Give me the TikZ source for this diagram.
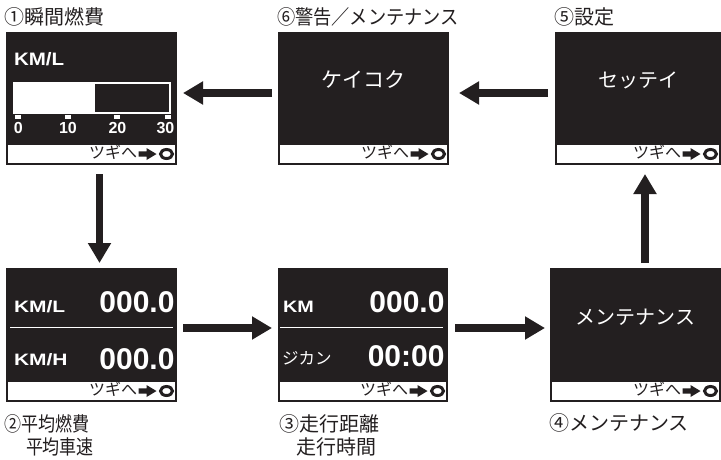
\documentclass[tikz,border=0pt]{standalone}
\usepackage{fontspec}
\usepackage{graphicx}
\setmainfont{Liberation Sans}
\newfontfamily\jp{Noto Sans CJK JP}
\usetikzlibrary{arrows.meta,calc}
\definecolor{ink}{HTML}{231F20}
\tikzset{
  screen/.style={fill=ink, anchor=north west, inner sep=0pt, outer sep=0pt},
  num/.style={text=white, font=\bfseries\fontsize{30}{30}\selectfont, anchor=base east},
  unitA/.style={text=white, font=\bfseries\fontsize{18}{18}\selectfont, anchor=base west},
  unitB/.style={text=white, font=\bfseries\fontsize{16.5}{16.5}\selectfont, anchor=base west},
  tick/.style={text=white, font=\bfseries\fontsize{16}{16}\selectfont, anchor=base},
  jpw/.style={text=white, font=\jp\fontsize{20}{20}\selectfont, anchor=base},
  caplabel/.style={text=ink, font=\jp\fontsize{20}{20}\selectfont, anchor=base west},
  foot/.style={text=ink, font=\jp\fontsize{16}{16}\selectfont},
  flow/.style={draw=ink, line width=7.5pt, -{Triangle[length=20pt,width=22pt]}},
  sepline/.style={draw=white, line width=1.5pt}
}
\newcommand\footbar[1]{%
  \fill[white] ($(#1.south west)+(2,-2)$) rectangle ($(#1.south east)+(-2,-20)$);
  \begin{scope}[shift={(#1.south east)}]
    \draw[ink, line width=3pt] (-10.5,-11) ellipse [x radius=6pt, y radius=4.5pt];
    \fill[ink] (-38.5,-8.3) -- (-30.5,-8.3) -- (-30.5,-5) -- (-20.5,-11) -- (-30.5,-17) -- (-30.5,-13.7) -- (-38.5,-13.7) -- cycle;
    \node[foot, anchor=base east] (#1f) at (-40,-6.3) {ツギへ};
  \end{scope}}
\begin{document}
\begin{tikzpicture}[x=1pt,y=-1pt, every node/.style={inner sep=0pt, outer sep=0pt}]
\useasboundingbox[fill=white] (0,0) rectangle (721,459);

% screens
\node[screen, minimum width=171, minimum height=133] (b1) at (6,32) {};
\node[screen, minimum width=171, minimum height=133] (b6) at (278,32) {};
\node[screen, minimum width=166, minimum height=133] (b5) at (555,32) {};
\node[screen, minimum width=171, minimum height=134] (b2) at (6,268) {};
\node[screen, minimum width=170, minimum height=134] (b3) at (278,268) {};
\node[screen, minimum width=171, minimum height=134] (b4) at (550,268) {};

\footbar{b1}\footbar{b6}\footbar{b5}\footbar{b2}\footbar{b3}\footbar{b4}

% screen 1 content
\node[unitA] (u1) at (14,65) {\scalebox{1.14}[1]{KM/L}};
\fill[white] (13.3,82) rectangle (95,113.5);
\draw[white, line width=2pt] (14.3,83) rectangle (169.7,112.8);
\foreach \t in {18.3,67.8,117.2,167.5}{\fill[white] (\t-3,115) rectangle (\t+3,118.5);}
\node[tick] (t0) at (18.3,133.3) {0};
\node[tick] (t1) at (68,133.3) {10};
\node[tick] (t2) at (117.5,133.3) {20};
\node[tick] (t3) at (165.5,133.3) {30};

% screen 2 content
\node[unitB] (u2a) at (14,312) {\scalebox{1.27}[1]{KM/L}};
\node[num] (n2a) at (174.5,312) {000.0};
\draw[sepline] (10,327.5) -- (173,327.5);
\node[unitB] (u2b) at (14,365.5) {\scalebox{1.27}[1]{KM/H}};
\node[num] (n2b) at (174.5,369.5) {000.0};

% screen 3 content
\node[unitB] (u3a) at (283,312) {\scalebox{1.2}[1]{KM}};
\node[num] (n3a) at (444.5,312) {000.0};
\draw[sepline] (280,327.5) -- (443,327.5);
\node[text=white, font=\jp\fontsize{16.5}{16.5}\selectfont, anchor=base west] (u3b) at (282,364) {ジカン};
\node[num] (n3b) at (444.5,366.5) {00:00};

% screen texts
\node[jpw, font=\jp\fontsize{21}{21}\selectfont] (k6) at (363.5,87) {ケイコク};
\node[jpw] (k5) at (638,87) {セッテイ};
\node[jpw] (k4) at (635.5,324) {メンテナンス};

% captions
\node[caplabel] (c1) at (5,24) {①瞬間燃費};
\node[caplabel] (c6) at (277,24) {\scalebox{0.91}[1]{⑥警告／メンテナンス}};
\node[caplabel] (c5) at (554,24) {⑤設定};
\node[caplabel] (c2a) at (5,431) {\scalebox{0.85}[1]{②平均燃費}};
\node[caplabel] (c2b) at (26,454) {\scalebox{0.85}[1]{平均車速}};
\node[caplabel] (c3a) at (279,431) {③走行距離};
\node[caplabel] (c3b) at (296,454) {走行時間};
\node[caplabel] (c4) at (549,430) {④メンテナンス};

% connectors
\draw[flow] ($(b6.west)+(-6,-5.5)$) -- ($(b1.east)+(6,-5.5)$);
\draw[flow] ($(b5.west)+(-7,-5.5)$) -- ($(b6.east)+(10,-5.5)$);
\draw[flow] ($(b1.south)+(8,9)$) -- ($(b2.north)+(8,-5)$);
\draw[flow] ($(b4.north)+(9.5,-5)$) -- ($(b5.south)+(7,9)$);
\draw[flow] ($(b2.east)+(6,-7)$) -- ($(b3.west)+(-6,-7)$);
\draw[flow] ($(b3.east)+(7,-7)$) -- ($(b4.west)+(-5,-7)$);
\end{tikzpicture}
\end{document}
